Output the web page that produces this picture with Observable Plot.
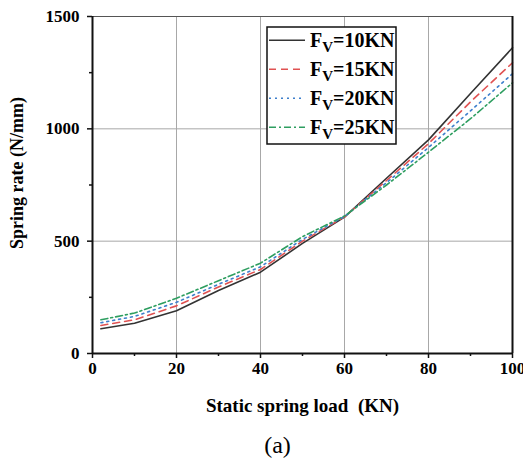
<!DOCTYPE html>
<html>
<head>
<meta charset="utf-8">
<script src="https://cdn.jsdelivr.net/npm/d3@7"></script>
<script src="https://cdn.jsdelivr.net/npm/@observablehq/plot@0.6"></script>
<style>
  html, body { margin: 0; padding: 0; background: #fff; }
  #chart { width: 523px; height: 463px; }
</style>
</head>
<body>
<div id="chart"></div>
<script>
// Data
const loads = [2, 10, 20, 30, 40, 50, 60, 70, 80, 90, 100];
const rate10 = [110, 135, 190, 280, 362, 490, 607, 780, 951, 1157, 1361];
const rate15 = [125, 150, 212, 296, 374, 500, 608, 770, 934, 1120, 1294];
const rate20 = [137, 165, 228, 308, 386, 508, 610, 760, 917, 1080, 1245];
const rate25 = [150, 180, 246, 324, 402, 520, 612, 750, 896, 1045, 1205];
const seriesNames = ["10", "15", "20", "25"];
const seriesValues = [rate10, rate15, rate20, rate25];
const xTicks = [0, 20, 40, 60, 80, 100];
const xMinor = [10, 30, 50, 70, 90];
const yTicks = [0, 500, 1000, 1500];
const yMinor = [250, 750, 1250];

const styles = [
  {stroke: "#333333", dash: null},
  {stroke: "#e05252", dash: "7,5"},
  {stroke: "#3d7fcc", dash: "2,4"},
  {stroke: "#2e9e60", dash: "7,3,2,3"}
];

const rows = [];
seriesNames.forEach((s, i) => loads.forEach((x, j) => rows.push({s, x, y: seriesValues[i][j]})));

const font = "'Liberation Serif', 'Times New Roman', serif";

const lineMarks = seriesNames.map((s, i) =>
  Plot.line(rows.filter(d => d.s === s), {
    x: "x", y: "y", stroke: styles[i].stroke, strokeWidth: 1.6,
    strokeDasharray: styles[i].dash
  })
);

const fmt = d => String(d);

const plot = Plot.plot({
  width: 523,
  height: 463,
  marginLeft: 92,
  marginRight: 11,
  marginTop: 16,
  marginBottom: 110,
  style: {fontFamily: font, color: "#000", background: "#fff", overflow: "visible"},
  x: {domain: [0, 100]},
  y: {domain: [0, 1500]},
  marks: [
    Plot.gridX(xTicks.slice(1, -1), {stroke: "#a8a8a8", strokeOpacity: 1, strokeWidth: 1}),
    Plot.gridY(yTicks.slice(1, -1), {stroke: "#a8a8a8", strokeOpacity: 1, strokeWidth: 1}),
    ...lineMarks,
    Plot.ruleY([1500], {stroke: "#555", strokeWidth: 1.2}),
    Plot.ruleX([100], {stroke: "#111", strokeWidth: 2}),
    Plot.ruleX([0], {stroke: "#111", strokeWidth: 2}),
    Plot.ruleY([0], {stroke: "#111", strokeWidth: 2}),
    Plot.axisX({ticks: xTicks, tickFormat: fmt, tickSize: 5, tickPadding: 3, fontSize: 17, fontWeight: "bold", fontFamily: font, label: null, stroke: "#111", strokeWidth: 1.5}),
    Plot.axisX({ticks: xMinor, tickSize: 3, text: null, label: null, stroke: "#111", strokeWidth: 1.5}),
    Plot.axisY({ticks: yTicks, tickFormat: fmt, tickSize: 5, tickPadding: 8, fontSize: 17, fontWeight: "bold", fontFamily: font, label: null, stroke: "#111", strokeWidth: 1.5}),
    Plot.axisY({ticks: yMinor, tickSize: 3, text: null, label: null, stroke: "#111", strokeWidth: 1.5}),
    Plot.text(["Spring rate (N/mm)"], {frameAnchor: "left", dx: -75, dy: -12, rotate: -90, textAnchor: "middle", lineAnchor: "middle", fontSize: 18, fontWeight: "bold", fontFamily: font, fill: "#000"}),
    Plot.text(["Static spring load\u00a0\u00a0(KN)"], {frameAnchor: "bottom", dy: 52, textAnchor: "middle", lineAnchor: "middle", fontSize: 19, fontWeight: "bold", fontFamily: font, fill: "#000"}),
    Plot.text(["(a)"], {frameAnchor: "bottom", dx: -25, dy: 92, textAnchor: "middle", lineAnchor: "middle", fontSize: 24, fontFamily: font, fill: "#000"})
  ]
});

document.getElementById("chart").appendChild(plot);

// Legend
const svg = d3.select(plot);
const lg = svg.append("g").attr("font-family", font).attr("font-weight", "bold").attr("text-anchor", "start");
lg.append("rect").attr("x", 267).attr("y", 27).attr("width", 129).attr("height", 117)
  .attr("fill", "#fff").attr("stroke", "#111").attr("stroke-width", 1.5);
seriesNames.forEach((s, i) => {
  const base = 46.7 + i * 29;
  const ln = lg.append("line").attr("x1", 269).attr("x2", 305).attr("y1", base - 6.5).attr("y2", base - 6.5)
    .attr("stroke", styles[i].stroke).attr("stroke-width", 1.6);
  if (styles[i].dash) ln.attr("stroke-dasharray", styles[i].dash);
  const t = lg.append("text").attr("x", 310).attr("y", base).attr("font-size", 20).attr("fill", "#000").attr("text-anchor", "start");
  t.append("tspan").text("F");
  t.append("tspan").attr("font-size", 15).attr("dy", 5).text("V");
  t.append("tspan").attr("dy", -5).text("=" + s + "KN");
});
</script>
</body>
</html>
